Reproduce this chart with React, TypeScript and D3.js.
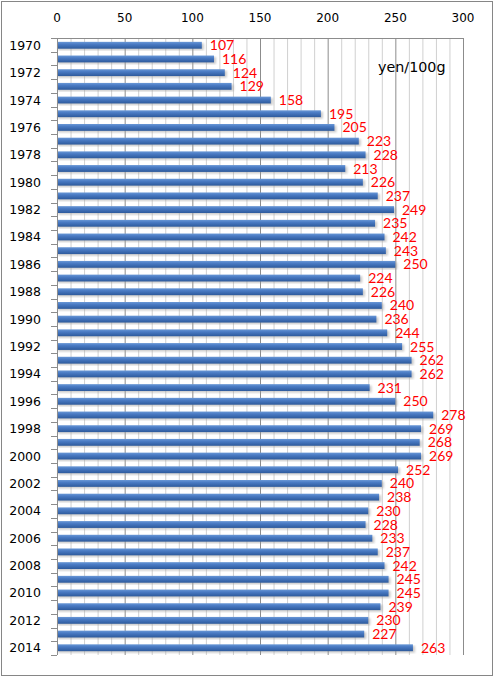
import React, { useEffect, useRef } from "react";
import * as d3 from "d3";

const years = d3.range(1970, 2015).map(String);
const prices = [
  107, 116, 124, 129, 158, 195, 205, 223, 228, 213, 226, 237, 249, 235, 242,
  243, 250, 224, 226, 240, 236, 244, 255, 262, 262, 231, 250, 278, 269, 268,
  269, 252, 240, 238, 230, 228, 233, 237, 242, 245, 245, 239, 230, 227, 263,
];
const xTicks = [0, 50, 100, 150, 200, 250, 300];
const unitLabel = "yen/100g";

const PriceBars: React.FC<{ width?: number; height?: number }> = ({
  width = 494,
  height = 677,
}) => {
  const svgRef = useRef<SVGSVGElement>(null);

  useEffect(() => {
    document.body.style.margin = "0";
    if (!svgRef.current) return;

    const marginTop = 38;
    const marginLeft = 57;
    const plotRight = 463;
    const plotBottom = 655;

    const svg = d3.select(svgRef.current);
    svg.selectAll("*").remove();

    const data = years.map((year, i) => ({ year, value: prices[i] }));

    const x = d3.scaleLinear().domain([0, 300]).range([marginLeft, plotRight]);
    const y = d3
      .scaleBand()
      .domain(years)
      .range([marginTop, plotBottom])
      .paddingInner(0.5)
      .paddingOuter(0.28);
    const step = (plotBottom - marginTop) / years.length;

    // gradient + shadow for the bars
    const defs = svg.append("defs");
    const grad = defs
      .append("linearGradient")
      .attr("id", "barGrad")
      .attr("x1", 0)
      .attr("y1", 0)
      .attr("x2", 0)
      .attr("y2", 1);
    grad.append("stop").attr("offset", "0%").attr("stop-color", "#6a98d6");
    grad.append("stop").attr("offset", "35%").attr("stop-color", "#4a7bc4");
    grad.append("stop").attr("offset", "100%").attr("stop-color", "#2d5a9c");
    defs
      .append("filter")
      .attr("id", "blur")
      .append("feGaussianBlur")
      .attr("stdDeviation", 0.8);

    // outer frame
    svg
      .append("rect")
      .attr("x", 1.5)
      .attr("y", 1.5)
      .attr("width", width - 3)
      .attr("height", height - 3)
      .attr("fill", "#fff")
      .attr("stroke", "#868686");

    // minor grid every 10, major every 50
    svg
      .append("g")
      .selectAll("line")
      .data(d3.range(10, 301, 10))
      .join("line")
      .attr("x1", (d) => x(d) + 0.5)
      .attr("x2", (d) => x(d) + 0.5)
      .attr("y1", marginTop)
      .attr("y2", plotBottom)
      .attr("stroke", (d) => (d % 50 === 0 ? "#8c8c8c" : "#d0d0d0"))
      .attr("stroke-width", 1);

    // top axis
    svg
      .append("line")
      .attr("x1", marginLeft)
      .attr("x2", plotRight)
      .attr("y1", marginTop + 0.5)
      .attr("y2", marginTop + 0.5)
      .attr("stroke", "#8c8c8c");

    svg
      .append("g")
      .attr("font-family", "'DejaVu Sans', Verdana, sans-serif")
      .attr("font-size", 12)
      .attr("fill", "#000")
      .attr("text-anchor", "middle")
      .selectAll("text")
      .data(xTicks)
      .join("text")
      .attr("x", (d) => x(d))
      .attr("y", 22)
      .text((d) => d);

    // left axis with ticks at category boundaries
    svg
      .append("line")
      .attr("x1", marginLeft + 0.5)
      .attr("x2", marginLeft + 0.5)
      .attr("y1", marginTop)
      .attr("y2", plotBottom)
      .attr("stroke", "#8c8c8c");

    svg
      .append("g")
      .selectAll("line")
      .data(d3.range(years.length + 1))
      .join("line")
      .attr("x1", marginLeft - 6)
      .attr("x2", marginLeft)
      .attr("y1", (i) => Math.round(marginTop + i * step) + 0.5)
      .attr("y2", (i) => Math.round(marginTop + i * step) + 0.5)
      .attr("stroke", "#8c8c8c");

    svg
      .append("g")
      .attr("font-family", "'DejaVu Sans', Verdana, sans-serif")
      .attr("font-size", 12.5)
      .attr("text-anchor", "end")
      .selectAll("text")
      .data(years.filter((_, i) => i % 2 === 0))
      .join("text")
      .attr("x", 41)
      .attr("y", (d) => y(d)! + y.bandwidth() / 2)
      .attr("dy", "0.36em")
      .text((d) => d);

    // bars
    const bars = svg.append("g");
    bars
      .selectAll("rect.shadow")
      .data(data)
      .join("rect")
      .attr("class", "shadow")
      .attr("x", x(0) + 1)
      .attr("y", (d) => y(d.year)! + 1.5)
      .attr("width", (d) => x(d.value) - x(0) + 1)
      .attr("height", y.bandwidth())
      .attr("fill", "#9a9a9a")
      .attr("opacity", 0.55)
      .attr("filter", "url(#blur)");
    bars
      .selectAll("rect.bar")
      .data(data)
      .join("rect")
      .attr("class", "bar")
      .attr("x", x(0) + 1)
      .attr("y", (d) => y(d.year)!)
      .attr("width", (d) => x(d.value) - x(0) - 1)
      .attr("height", y.bandwidth())
      .attr("fill", "url(#barGrad)");

    // value labels
    svg
      .append("g")
      .attr("font-family", "Lato, 'Liberation Sans', sans-serif")
      .attr("font-size", 14)
      .attr("fill", "#ff0000")
      .selectAll("text")
      .data(data)
      .join("text")
      .attr("x", (d) => x(d.value) + 8)
      .attr("y", (d) => y(d.year)! + y.bandwidth() / 2)
      .attr("dy", "0.36em")
      .text((d) => d.value);

    // unit label
    svg
      .append("text")
      .attr("x", 378)
      .attr("y", 67)
      .attr("dy", "0.36em")
      .attr("font-family", "'DejaVu Sans', Verdana, sans-serif")
      .attr("font-size", 14.3)
      .text(unitLabel);
  }, [width, height]);

  return (
    <svg
      ref={svgRef}
      width={width}
      height={height}
      style={{ display: "block" }}
    />
  );
};

export default function App() {
  return <PriceBars />;
}
